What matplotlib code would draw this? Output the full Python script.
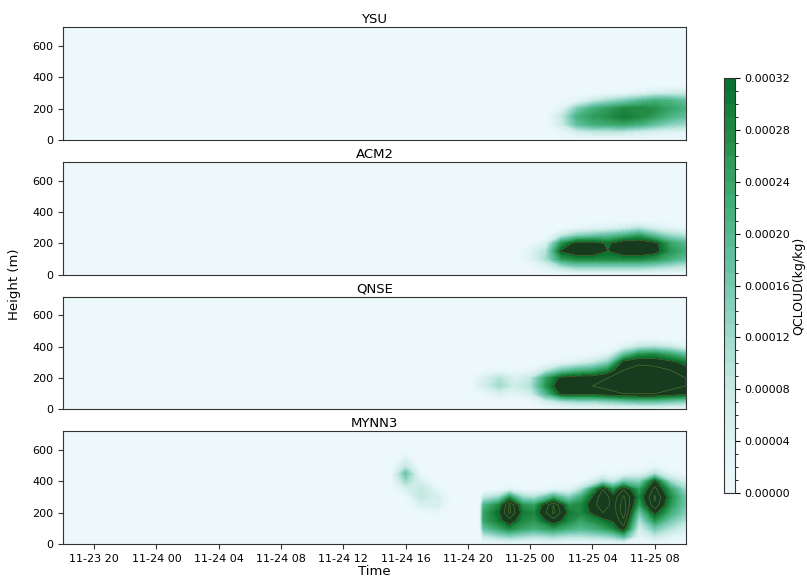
import numpy as np
import pandas as pd
import matplotlib
matplotlib.use("Agg")
import matplotlib.pyplot as plt
import matplotlib.dates as mdates
from matplotlib.colors import ListedColormap, BoundaryNorm
from matplotlib.cm import ScalarMappable

# ----------------------------
# data (QCLOUD in 1e-5 kg/kg, one profile per output time)
# ----------------------------
heights = [0, 50, 100, 150, 200, 250, 300, 350, 400, 450, 500, 600, 720]
schemes = ["YSU", "ACM2", "QNSE", "MYNN3"]

ysu_times = ["2019-11-23 18:00", "2019-11-25 01:00", "2019-11-25 02:00", "2019-11-25 03:00",
             "2019-11-25 04:00", "2019-11-25 05:00", "2019-11-25 06:00", "2019-11-25 07:00",
             "2019-11-25 08:00", "2019-11-25 09:00", "2019-11-25 10:00"]
ysu_q = [[], [], [0, 2, 7, 8, 4], [0, 6, 18, 21, 15, 3],
         [0, 8, 22, 25, 22, 8], [0, 8, 23, 27, 25, 12, 1], [0, 8, 24, 30, 28, 15, 2],
         [0, 6, 22, 28, 28, 19, 4], [0, 5, 18, 25, 27, 22, 6], [0, 4, 14, 21, 24, 21, 7],
         [0, 3, 12, 18, 21, 18, 7]]

acm2_times = ["2019-11-23 18:00", "2019-11-24 23:00", "2019-11-25 00:00", "2019-11-25 01:00",
              "2019-11-25 02:00", "2019-11-25 03:00", "2019-11-25 04:00", "2019-11-25 05:00",
              "2019-11-25 06:00", "2019-11-25 07:00", "2019-11-25 08:00", "2019-11-25 09:00",
              "2019-11-25 10:00"]
acm2_q = [[], [], [0, 1, 4, 4, 1], [0, 4, 11, 10, 5],
          [0, 10, 25, 33, 26, 8], [0, 14, 28, 37, 35, 14, 2], [0, 14, 28, 37, 35, 16, 3],
          [0, 14, 28, 32, 31, 18, 4], [0, 14, 28, 37, 37, 21, 6], [0, 14, 28, 37, 37, 25, 9],
          [0, 12, 26, 35, 34, 18, 5], [0, 10, 22, 26, 24, 12, 3], [0, 8, 18, 22, 20, 10, 2]]

qnse_times = ["2019-11-23 18:00", "2019-11-24 20:00", "2019-11-24 21:00", "2019-11-24 22:00",
              "2019-11-24 23:00", "2019-11-25 00:00", "2019-11-25 01:00", "2019-11-25 02:00",
              "2019-11-25 03:00", "2019-11-25 04:00", "2019-11-25 05:00", "2019-11-25 06:00",
              "2019-11-25 07:00", "2019-11-25 08:00", "2019-11-25 09:00", "2019-11-25 10:00"]
qnse_q = [[], [], [0, 0, 2, 6, 5, 1], [0, 0, 5, 12, 10, 2],
          [0, 0, 3, 7, 5, 1], [0, 1, 6, 10, 8, 2], [0, 6, 20, 26, 24, 8, 1],
          [0, 10, 34, 38, 34, 16, 3], [0, 12, 34, 38, 36, 20, 5], [0, 12, 34, 38, 36, 22, 8, 1],
          [0, 14, 36, 40, 38, 28, 14, 4], [0, 16, 38, 42, 42, 38, 35, 18, 4],
          [0, 18, 38, 42, 42, 40, 37, 27, 9, 1], [0, 18, 38, 42, 42, 40, 36, 28, 10, 1],
          [0, 16, 36, 40, 40, 38, 34, 24, 8], [0, 14, 34, 38, 38, 34, 30, 18, 4]]

mynn3_times = ["2019-11-23 18:00", "2019-11-24 15:00", "2019-11-24 16:00", "2019-11-24 17:00",
               "2019-11-24 18:00", "2019-11-24 19:00", "2019-11-24 20:45", "2019-11-24 21:00",
               "2019-11-24 22:00", "2019-11-24 22:40", "2019-11-24 23:30", "2019-11-25 00:15",
               "2019-11-25 01:30", "2019-11-25 02:30", "2019-11-25 03:15", "2019-11-25 04:40",
               "2019-11-25 05:20", "2019-11-25 06:00", "2019-11-25 07:00", "2019-11-25 08:00",
               "2019-11-25 09:00", "2019-11-25 10:00"]
mynn3_q = [[], [], [0, 0, 0, 0, 0, 0, 1, 5, 12, 17, 8], [0, 0, 0, 0, 1, 5, 9, 9, 5, 1],
           [0, 0, 0, 0, 2, 6, 6, 3], [], [], [0, 8, 18, 24, 24, 20, 8],
           [0, 12, 24, 30, 32, 28, 12, 1], [0, 14, 28, 36, 44, 44, 26, 4], [0, 12, 24, 28, 30, 26, 12, 1],
           [0, 10, 22, 26, 28, 24, 10], [0, 12, 26, 36, 44, 43, 22, 3], [0, 10, 22, 28, 30, 26, 14, 3],
           [0, 10, 20, 24, 28, 28, 22, 10, 1], [0, 12, 24, 30, 38, 42, 42, 38, 12, 2],
           [0, 14, 28, 33, 35, 36, 35, 26, 8, 1], [0, 20, 36, 42, 46, 46, 44, 38, 16, 3],
           [0, 3, 6, 10, 16, 24, 28, 24, 14, 4], [0, 8, 16, 26, 34, 42, 44, 40, 34, 10, 2],
           [0, 4, 10, 16, 22, 26, 28, 24, 12, 3], [0, 2, 6, 10, 14, 16, 16, 12, 6, 1]]

panel_times = [ysu_times, acm2_times, qnse_times, mynn3_times]
panel_q = [ysu_q, acm2_q, qnse_q, mynn3_q]


def to_grid(profiles):
    # pad each profile with zeros up to the model top, transpose to (height, time)
    z = np.zeros((len(heights), len(profiles)))
    for j, p in enumerate(profiles):
        z[:len(p), j] = p
    return z * 1e-5


# ----------------------------
# colours / levels
# ----------------------------
levels = np.arange(0, 33) * 1e-5
colors = plt.get_cmap("BuGn")(np.linspace(0.07, 0.85, len(levels) - 1))
cmap = ListedColormap(colors)
cmap.set_over("#173b1f")

fig, axes = plt.subplots(4, 1, figsize=(8.07, 5.8), dpi=100, sharex=True)
fig.subplots_adjust(left=0.078, right=0.850, top=0.953, bottom=0.062, hspace=0.196)

for ax, name, times, prof in zip(axes, schemes, panel_times, panel_q):
    x = mdates.date2num(pd.to_datetime(times))
    z = to_grid(prof)
    ax.contourf(x, heights, z, levels=levels, cmap=cmap, extend="max")
    over = [lv for lv in (32e-5, 38e-5, 43e-5) if lv < z.max()]
    if over:
        ax.contour(x, heights, z, levels=over, colors="#4f6e2c", linewidths=0.5)
    ax.set_ylim(0, 720)
    ax.set_yticks([0, 200, 400, 600])
    ax.set_title(name, fontsize=9.5, pad=3)
    ax.tick_params(labelsize=8, color="#333333")
    for s in ax.spines.values():
        s.set_color("#333333")
    ax.set_xlim(mdates.date2num(pd.Timestamp("2019-11-23 18:00")),
                mdates.date2num(pd.Timestamp("2019-11-25 10:00")))

for ax in axes[:-1]:
    ax.tick_params(axis="x", bottom=False, labelbottom=False)

axes[-1].xaxis.set_major_locator(mdates.HourLocator(byhour=[0, 4, 8, 12, 16, 20]))
axes[-1].xaxis.set_major_formatter(mdates.DateFormatter("%m-%d %H"))
axes[-1].set_xlabel("Time", fontsize=9.5, labelpad=1)
fig.text(0.018, 0.51, "Height (m)", rotation=90, va="center", ha="center", fontsize=9.5)

# colorbar
cax = fig.add_axes([724 / 807, (580 - 493) / 580, 11 / 807, 415 / 580])
sm = ScalarMappable(norm=BoundaryNorm(levels, len(levels) - 1), cmap=ListedColormap(colors))
cb = fig.colorbar(sm, cax=cax)
cb.set_ticks(np.arange(0, 33, 4) * 1e-5)
cb.set_ticks(levels, minor=True)
cb.ax.set_yticklabels([f"{v:.5f}" for v in np.arange(0, 33, 4) * 1e-5])
cb.ax.tick_params(labelsize=8)
cb.outline.set_edgecolor("#333333")
cb.set_label("QCLOUD(kg/kg)", fontsize=9, labelpad=1)

fig.savefig("out.png", dpi=100)
